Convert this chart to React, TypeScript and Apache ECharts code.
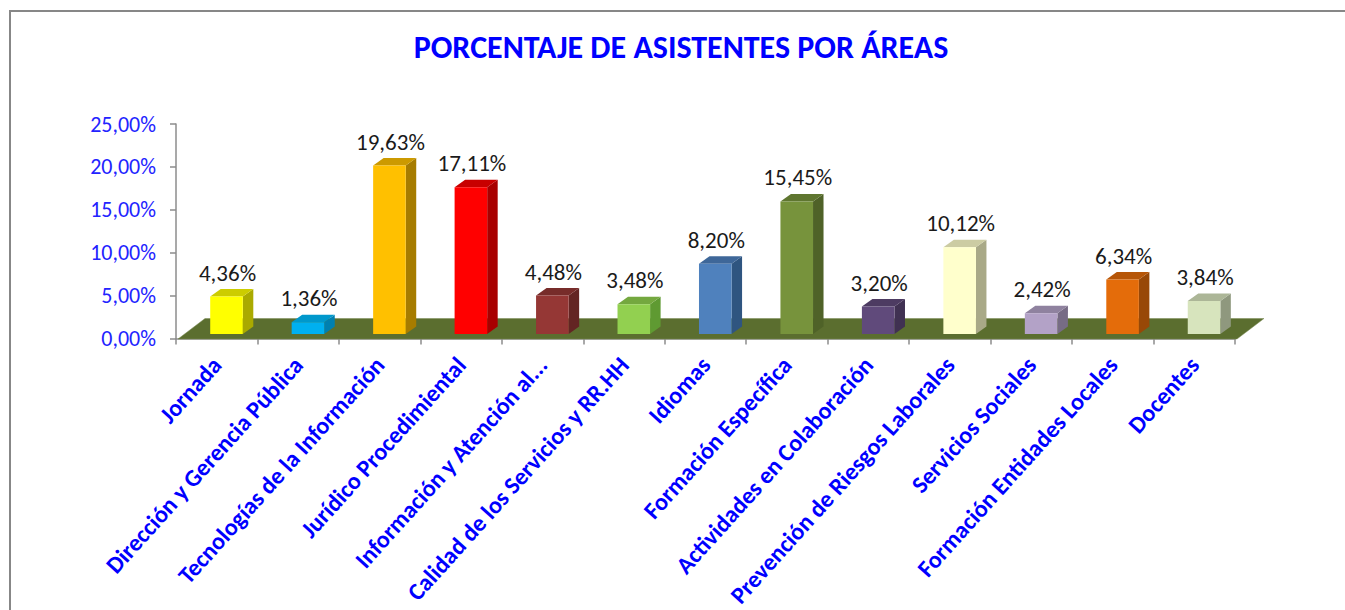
import React, { useEffect, useRef } from "react";
import * as echarts from "echarts";

const categories = [
  "Jornada",
  "Dirección y Gerencia Pública",
  "Tecnologías de la Información",
  "Jurídico Procedimiental",
  "Información y Atención al...",
  "Calidad de los Servicios y RR.HH",
  "Idiomas",
  "Formación Específica",
  "Actividades en Colaboración",
  "Prevención de Riesgos Laborales",
  "Servicios Sociales",
  "Formación Entidades Locales",
  "Docentes",
];

const values = [4.36, 1.36, 19.63, 17.11, 4.48, 3.48, 8.2, 15.45, 3.2, 10.12, 2.42, 6.34, 3.84];

const frontColors = [
  "#FFFF00", "#00B0F0", "#FFC000", "#FF0000", "#953735", "#92D050", "#4F81BD",
  "#77933C", "#604A7B", "#FFFFCC", "#B3A2C7", "#E46C0A", "#D7E4BD",
];
const sideColors = [
  "#AAAA00", "#0080B0", "#A67C00", "#A80000", "#632523", "#5F9A32", "#2F5580",
  "#4F6228", "#403152", "#A9A987", "#776C85", "#984807", "#8F987E",
];
const topColors = [
  "#CCCC00", "#0098CC", "#CC9A00", "#C80000", "#772C2A", "#74A83F", "#3E6799",
  "#5F7630", "#4D3B62", "#CCCCA3", "#8F829F", "#B65608", "#ACB697",
];

const yMin = 0;
const yMax = 25;
const yStep = 5;

const FONT = "Carlito, Calibri, Lato, sans-serif";

const fmt = (v: number) => v.toFixed(2).replace(".", ",") + "%";

export default function App() {
  const ref = useRef<HTMLDivElement>(null);

  useEffect(() => {
    document.body.style.margin = "0";
    const chart = echarts.init(ref.current!, undefined, { renderer: "svg" });

    const option: any = {
      animation: false,
      backgroundColor: "#FFFFFF",
      title: {
        text: "PORCENTAJE DE ASISTENTES POR ÁREAS",
        left: 681,
        textAlign: "center",
        top: 31,
        padding: 0,
        textStyle: {
          color: "#0000FF",
          fontSize: 32,
          fontWeight: "bold",
          fontFamily: FONT,
        },
      },
      graphic: [
        {
          type: "rect",
          shape: { x: 10, y: 11, width: 1400, height: 700 },
          style: { fill: "none", stroke: "#878787", lineWidth: 2 },
          silent: true,
        },
      ],
      grid: { left: 176, top: 124, width: 1059, height: 216, containLabel: false },
      xAxis: {
        type: "category",
        data: categories,
        boundaryGap: true,
        axisLine: { show: true, lineStyle: { color: "#8C8C8C", width: 1.5 } },
        axisTick: { show: true, length: 6, interval: 0, lineStyle: { color: "#8C8C8C", width: 1.5 } },
        axisLabel: {
          interval: 0,
          rotate: 48,
          margin: 22,
          color: "#0000FF",
          fontSize: 24,
          fontWeight: "bold",
          fontFamily: FONT,
        },
        splitLine: { show: false },
        z: 1,
      },
      yAxis: {
        type: "value",
        min: yMin,
        max: yMax,
        interval: yStep,
        axisLine: { show: true, lineStyle: { color: "#8C8C8C", width: 1.5 } },
        axisTick: { show: true, length: 6, lineStyle: { color: "#8C8C8C", width: 1.5 } },
        splitLine: { show: false },
        axisLabel: {
          margin: 20,
          color: "#2323FF",
          fontSize: 22,
          fontFamily: FONT,
          formatter: (v: number) => fmt(v),
        },
      },
      series: [
        {
          type: "custom",
          name: "floor",
          data: [[0, 0]],
          z: 2,
          silent: true,
          renderItem: (params: any, api: any) => {
            const cs = params.coordSys;
            const x0 = cs.x;
            const x1 = cs.x + cs.width;
            const yb = cs.y + cs.height;
            return {
              type: "polygon",
              shape: {
                points: [
                  [x0 + 2, yb + 0.5],
                  [x0 + 29, yb - 20],
                  [x1 + 29, yb - 20],
                  [x1 + 2, yb + 0.5],
                ],
              },
              style: { fill: "#5B6E2F", stroke: "#7A8A55", lineWidth: 0.5 },
            };
          },
        },
        {
          type: "custom",
          name: "bars",
          data: values.map((v, i) => [i, v]),
          encode: { x: 0, y: 1 },
          z: 3,
          renderItem: (params: any, api: any) => {
            const idx = api.value(0);
            const v = api.value(1);
            const base = api.coord([idx, 0]);
            const h = api.size([0, v])[1];
            const bw = api.size([1, 0])[0];
            const w = bw * 0.4;
            const x0 = base[0] - bw * 0.08;
            const yb = base[1] - 4.5;
            const yt = yb - h;
            const dx = 10.5;
            const dy = 7.5;
            const i = params.dataIndex;
            return {
              type: "group",
              children: [
                {
                  type: "polygon",
                  shape: {
                    points: [
                      [x0 + w, yt],
                      [x0 + w + dx, yt - dy],
                      [x0 + w + dx, yb - dy],
                      [x0 + w, yb],
                    ],
                  },
                  style: { fill: sideColors[i] },
                },
                {
                  type: "polygon",
                  shape: {
                    points: [
                      [x0, yt],
                      [x0 + dx, yt - dy],
                      [x0 + w + dx, yt - dy],
                      [x0 + w, yt],
                    ],
                  },
                  style: { fill: topColors[i] },
                },
                {
                  type: "rect",
                  shape: { x: x0, y: yt, width: w, height: h },
                  style: { fill: frontColors[i] },
                },
                {
                  type: "text",
                  x: x0 + w / 2 + 1,
                  y: yt - 24,
                  style: {
                    text: fmt(v),
                    fill: "#1A1A1A",
                    fontSize: 23,
                    fontFamily: FONT,
                    align: "center",
                    verticalAlign: "middle",
                  },
                },
              ],
            };
          },
        },
      ],
    };

    chart.setOption(option);
    return () => chart.dispose();
  }, []);

  return <div ref={ref} style={{ width: 1345, height: 610 }} />;
}
